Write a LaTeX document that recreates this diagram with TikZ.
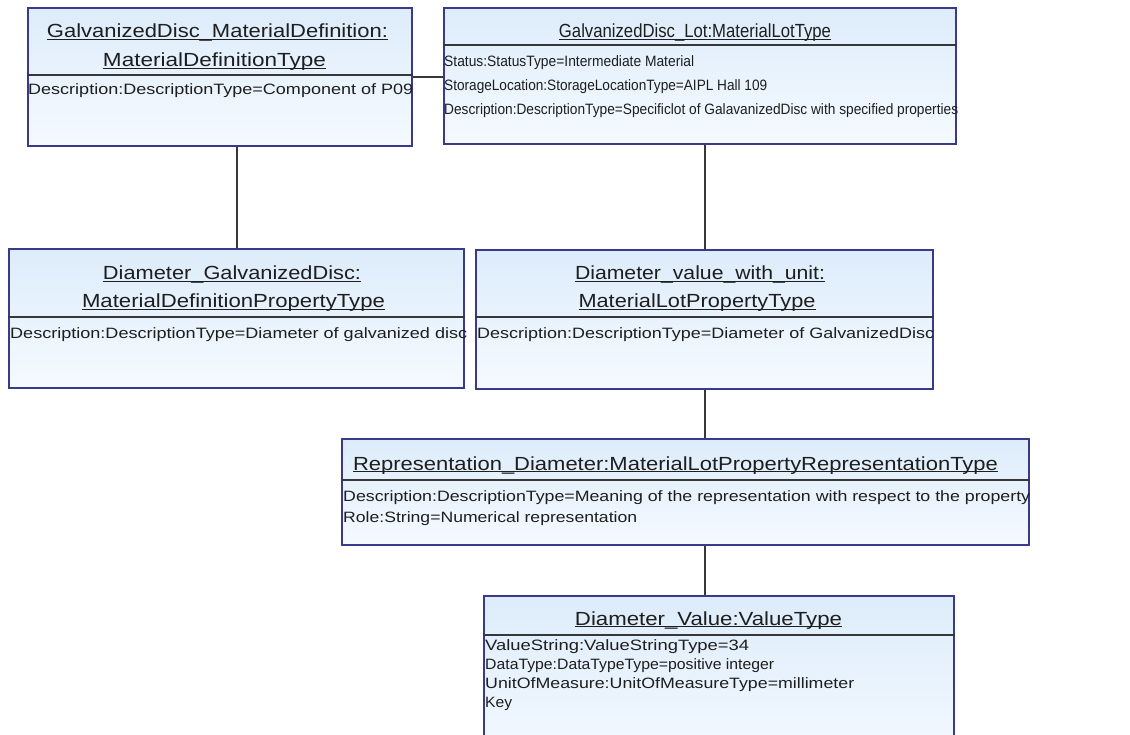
\documentclass[tikz,border=0pt]{standalone}
\usepackage{fontspec}
\setmainfont{Liberation Sans}
\usepackage{graphicx}
\usetikzlibrary{calc}
\definecolor{boxborder}{RGB}{58,58,140}
\definecolor{boxtop}{RGB}{221,236,251}
\definecolor{boxbot}{RGB}{245,250,255}
\definecolor{txt}{RGB}{30,30,30}
\definecolor{lin}{RGB}{55,55,55}
\newcommand{\fitw}[2]{\resizebox{#1pt}{\height}{#2}}
\newcommand{\ulbox}[1]{\setbox0\hbox{#1}\rlap{\rule[-2.4pt]{\wd0}{1.1pt}}\box0}
\begin{document}
\begin{tikzpicture}[x=1pt,y=-1pt,
  umlbox/.style={draw=boxborder, line width=2pt, top color=boxtop, bottom color=boxbot,
    rectangle, inner sep=0pt, anchor=north west},
  ttl/.style={inner sep=0pt, anchor=base, text=txt, font=\fontsize{19}{22}\selectfont},
  attr/.style={inner sep=0pt, anchor=base west, text=txt, font=\fontsize{15}{17}\selectfont},
  sepline/.style={draw=lin, line width=2pt},
  conn/.style={draw=lin, line width=2pt}]
\useasboundingbox (0,0) rectangle (1130,735);
\fill[white] (0,0) rectangle (1130,735);
\clip (0,0) rectangle (1130,735);

% boxes
\node[umlbox, minimum width=384pt, minimum height=138pt] (b1) at (27,7) {};
\node[umlbox, minimum width=512pt, minimum height=136pt] (b2) at (443,7) {};
\node[umlbox, minimum width=455pt, minimum height=139pt] (b3) at (8,248) {};
\node[umlbox, minimum width=457pt, minimum height=139pt] (b4) at (475,249) {};
\node[umlbox, minimum width=687pt, minimum height=106pt] (b5) at (341,438) {};
\node[umlbox, minimum width=470pt, minimum height=175pt] (b6) at (483,595) {};

% connectors
\draw[conn] (b1.east) -- (b1.east -| b2.west);
\draw[conn] (b1.south -| b3.north) -- (b3.north);
\draw[conn] (b2.south -| b4.north) -- (b4.north);
\draw[conn] (b4.south) -- (b4.south |- b5.north);
\draw[conn] (b4.south |- b5.south) -- (b4.south |- b6.north);

% separators
\draw[sepline] (b1.west |- 0,75) -- (b1.east |- 0,75);
\draw[sepline] (b2.west |- 0,45) -- (b2.east |- 0,45);
\draw[sepline] (b3.west |- 0,317) -- (b3.east |- 0,317);
\draw[sepline] (b4.west |- 0,317) -- (b4.east |- 0,317);
\draw[sepline] (b5.west |- 0,480) -- (b5.east |- 0,480);
\draw[sepline] (b6.west |- 0,635) -- (b6.east |- 0,635);

% box 1
\node[ttl] (t1a) at (217.5,38) {\fitw{341}{\ulbox{GalvanizedDisc\_MaterialDefinition:}}};
\node[ttl] (t1b) at (214.5,67) {\fitw{223}{\ulbox{MaterialDefinitionType}}};
\node[attr] (a1a) at (28,95) {\fitw{385}{Description:DescriptionType=Component of P09}};

% box 2
\node[ttl] (t2a) at (695,38) {\fitw{272}{\ulbox{GalvanizedDisc\_Lot:MaterialLotType}}};
\node[attr] (a2a) at (444,67) {\fitw{250}{Status:StatusType=Intermediate Material}};
\node[attr] (a2b) at (444,91) {\fitw{323}{StorageLocation:StorageLocationType=AIPL Hall 109}};
\node[attr] (a2c) at (444,115) {\fitw{514}{Description:DescriptionType=Specificlot of GalavanizedDisc with specified properties}};

% box 3
\node[ttl] (t3a) at (232,279.5) {\fitw{258}{\ulbox{Diameter\_GalvanizedDisc:}}};
\node[ttl] (t3b) at (233.5,307.5) {\fitw{303}{\ulbox{MaterialDefinitionPropertyType}}};
\node[attr] (a3a) at (10,338) {\fitw{457}{Description:DescriptionType=Diameter of galvanized disc}};

% box 4
\node[ttl] (t4a) at (700,279.5) {\fitw{250}{\ulbox{Diameter\_value\_with\_unit:}}};
\node[ttl] (t4b) at (697,307.5) {\fitw{237}{\ulbox{MaterialLotPropertyType}}};
\node[attr] (a4a) at (477,338) {\fitw{457}{Description:DescriptionType=Diameter of GalvanizedDisc}};

% box 5
\node[ttl] (t5a) at (675.5,470) {\fitw{645}{\ulbox{Representation\_Diameter:MaterialLotPropertyRepresentationType}}};
\node[attr] (a5a) at (343,501) {\fitw{687}{Description:DescriptionType=Meaning of the representation with respect to the property}};
\node[attr] (a5b) at (343,522) {\fitw{294}{Role:String=Numerical representation}};

% box 6
\node[ttl] (t6a) at (708.5,625) {\fitw{267}{\ulbox{Diameter\_Value:ValueType}}};
\node[attr] (a6a) at (485,650) {\fitw{264}{ValueString:ValueStringType=34}};
\node[attr] (a6b) at (485,669) {\fitw{289}{DataType:DataTypeType=positive integer}};
\node[attr] (a6c) at (485,688) {\fitw{369}{UnitOfMeasure:UnitOfMeasureType=millimeter}};
\node[attr] (a6d) at (485,707) {\fitw{27}{Key}};
\end{tikzpicture}
\end{document}
